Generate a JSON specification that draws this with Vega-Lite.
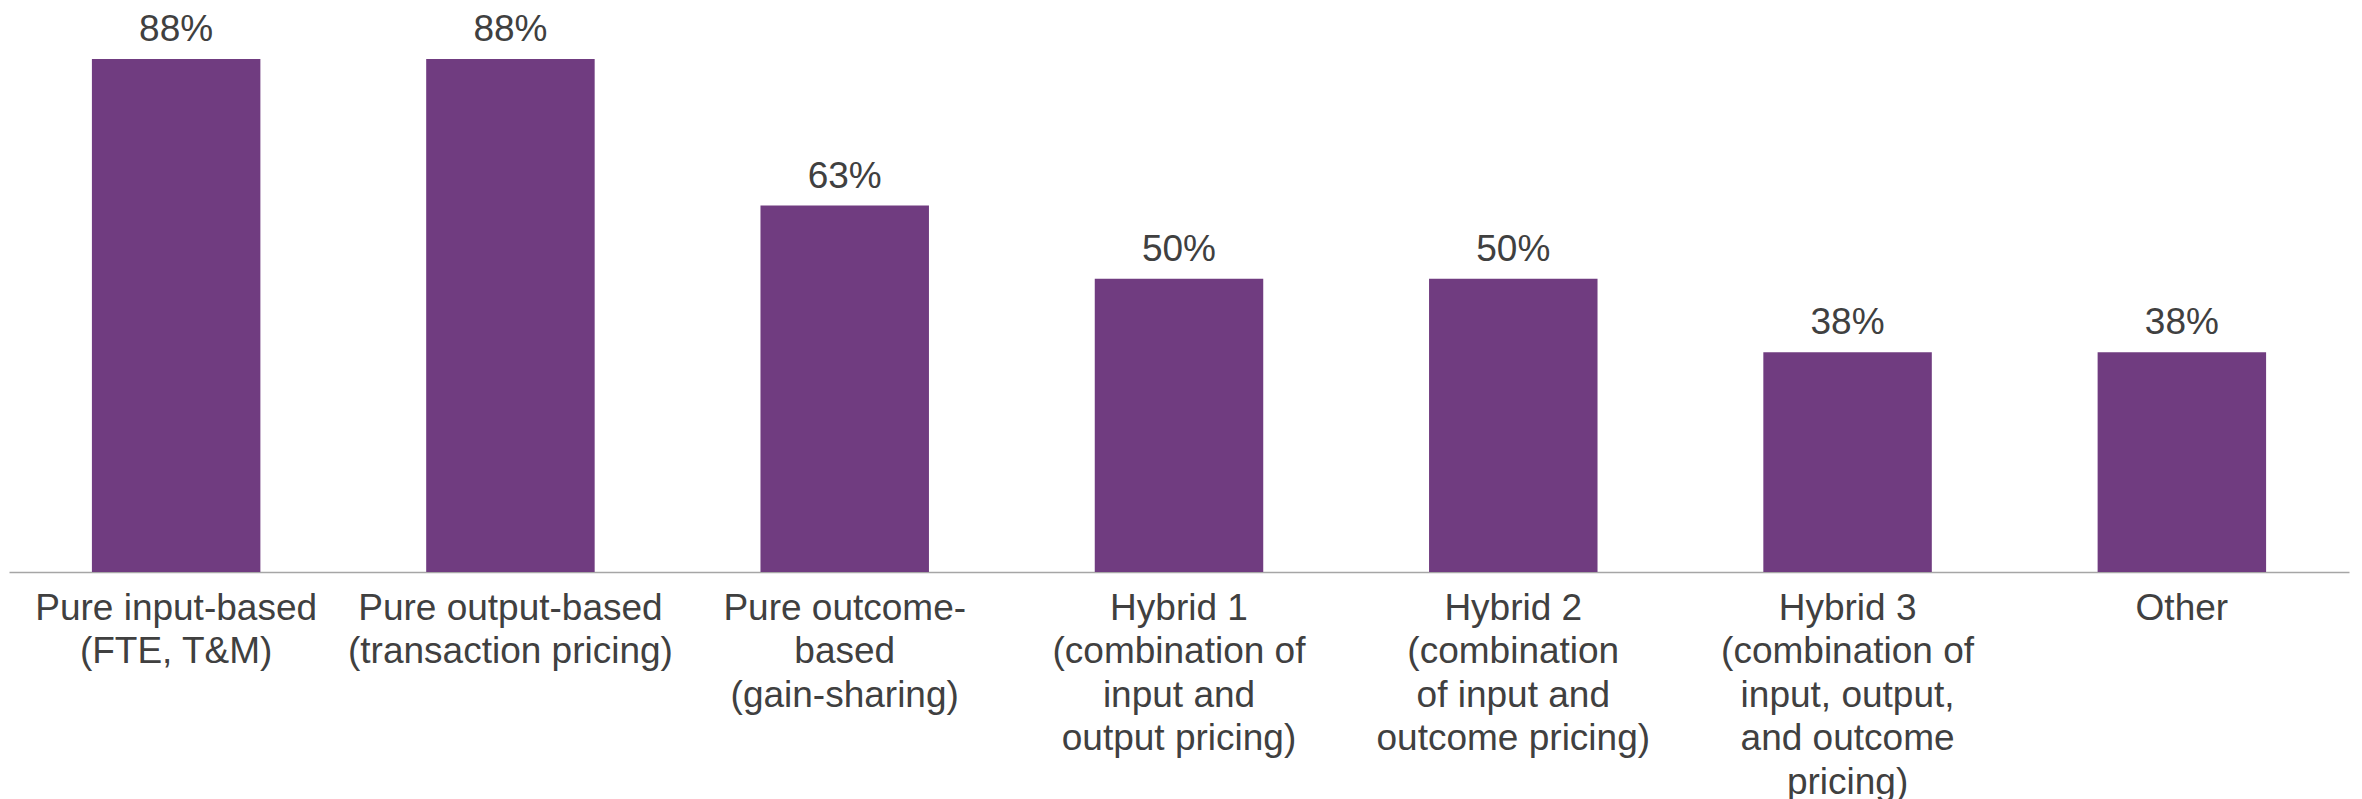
{
  "$schema": "https://vega.github.io/schema/vega-lite/v6.json",
  "autosize": {"type": "none"},
  "padding": {"left": 9, "top": 0, "right": 13, "bottom": 227},
  "width": 2340,
  "height": 572,
  "background": "white",
  "config": {"view": {"stroke": null}},
  "data": {
    "values": [
      {"category": "Pure input-based\n(FTE, T&M)", "share": 0.875},
      {"category": "Pure output-based\n(transaction pricing)", "share": 0.875},
      {"category": "Pure outcome-\nbased\n(gain-sharing)", "share": 0.625},
      {"category": "Hybrid 1\n(combination of\ninput and\noutput pricing)", "share": 0.5},
      {"category": "Hybrid 2\n(combination\nof input and\noutcome pricing)", "share": 0.5},
      {"category": "Hybrid 3\n(combination of\ninput, output,\nand outcome\npricing)", "share": 0.375},
      {"category": "Other", "share": 0.375}
    ]
  },
  "encoding": {
    "x": {
      "field": "category",
      "type": "nominal",
      "sort": null,
      "scale": {"paddingInner": 0.496, "paddingOuter": 0.248},
      "axis": {
        "title": null,
        "labelAngle": 0,
        "labelExpr": "split(datum.label, '\\n')",
        "labelFont": "Liberation Sans",
        "labelFontSize": 37,
        "labelColor": "#404040",
        "labelLineHeight": 43.5,
        "labelPadding": 18,
        "labelBaseline": "top",
        "labelLimit": 0,
        "labelOverlap": false,
        "ticks": false,
        "domainColor": "#A6A6A6",
        "domainWidth": 1.5
      }
    },
    "y": {
      "field": "share",
      "type": "quantitative",
      "scale": {"domain": [0, 0.9756], "nice": false, "zero": true},
      "axis": null
    }
  },
  "layer": [
    {"mark": {"type": "bar", "color": "#703C80"}},
    {
      "mark": {
        "type": "text",
        "font": "Liberation Sans",
        "fontSize": 37,
        "color": "#404040",
        "baseline": "alphabetic",
        "dy": -18
      },
      "encoding": {"text": {"field": "share", "type": "quantitative", "format": ".0%"}}
    }
  ]
}
